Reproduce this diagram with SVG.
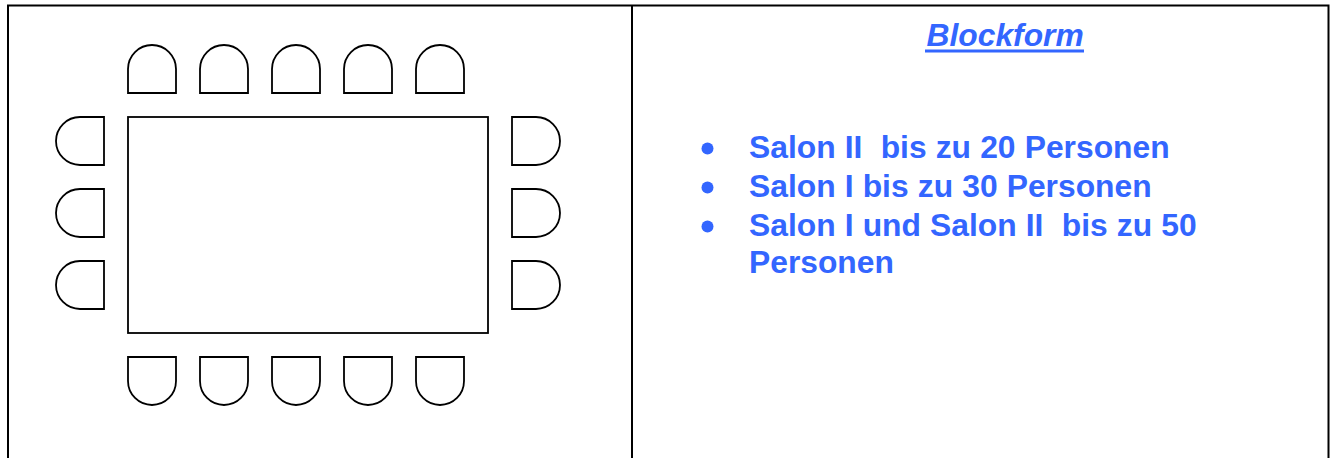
<svg xmlns="http://www.w3.org/2000/svg" width="1336" height="458" viewBox="0 0 1336 458">
<style>
.f{fill:none;stroke:#000;stroke-width:2}
.c{fill:#fff;stroke:#000;stroke-width:1.8}
.t{font-family:"Liberation Sans",Arial,sans-serif;font-weight:bold;fill:#3366ff;font-size:31.800px}
</style>
<defs>
<path id="u" class="c" d="M0 48V24A24 24 0 0 1 48 24V48Z"/>
<path id="d" class="c" d="M0 0V24A24 24 0 0 0 48 24V0Z"/>
<path id="l" class="c" d="M48 0H24A24 24 0 0 0 24 48H48Z"/>
<path id="r" class="c" d="M0 0H24A24 24 0 0 1 24 48H0Z"/>
</defs>
<rect width="1336" height="458" fill="#fff"/>
<g id="frame">
<path class="f" d="M8 458V5.500H1328.500V458M632 5.500V458"/>
</g>
<g id="table"><rect class="c" x="128" y="117" width="360" height="216"/></g>
<g id="chair-top-1"><use href="#u" x="128" y="45"/></g>
<g id="chair-top-2"><use href="#u" x="200" y="45"/></g>
<g id="chair-top-3"><use href="#u" x="272" y="45"/></g>
<g id="chair-top-4"><use href="#u" x="344" y="45"/></g>
<g id="chair-top-5"><use href="#u" x="416" y="45"/></g>
<g id="chair-bottom-1"><use href="#d" x="128" y="357"/></g>
<g id="chair-bottom-2"><use href="#d" x="200" y="357"/></g>
<g id="chair-bottom-3"><use href="#d" x="272" y="357"/></g>
<g id="chair-bottom-4"><use href="#d" x="344" y="357"/></g>
<g id="chair-bottom-5"><use href="#d" x="416" y="357"/></g>
<g id="chair-left-1"><use href="#l" x="56" y="117"/></g>
<g id="chair-left-2"><use href="#l" x="56" y="189"/></g>
<g id="chair-left-3"><use href="#l" x="56" y="261"/></g>
<g id="chair-right-1"><use href="#r" x="512" y="117"/></g>
<g id="chair-right-2"><use href="#r" x="512" y="189"/></g>
<g id="chair-right-3"><use href="#r" x="512" y="261"/></g>
<g id="text">
<text class="t" x="926.500" y="46" font-style="italic">Blockform</text>
<rect x="925" y="49.500" width="159" height="3" fill="#3366ff"/>
<circle cx="707.500" cy="148.500" r="6" fill="#3366ff"/>
<circle cx="707.500" cy="187.500" r="6" fill="#3366ff"/>
<circle cx="707.500" cy="226.500" r="6" fill="#3366ff"/>
<text class="t" x="749" y="158" xml:space="preserve" word-spacing="0.300">Salon II  bis zu 20 Personen</text>
<text class="t" x="749" y="197" word-spacing="0.300">Salon I bis zu 30 Personen</text>
<text class="t" x="749" y="236" xml:space="preserve" word-spacing="0.300">Salon I und Salon II  bis zu 50</text>
<text class="t" x="749" y="273">Personen</text>
</g>
</svg>
